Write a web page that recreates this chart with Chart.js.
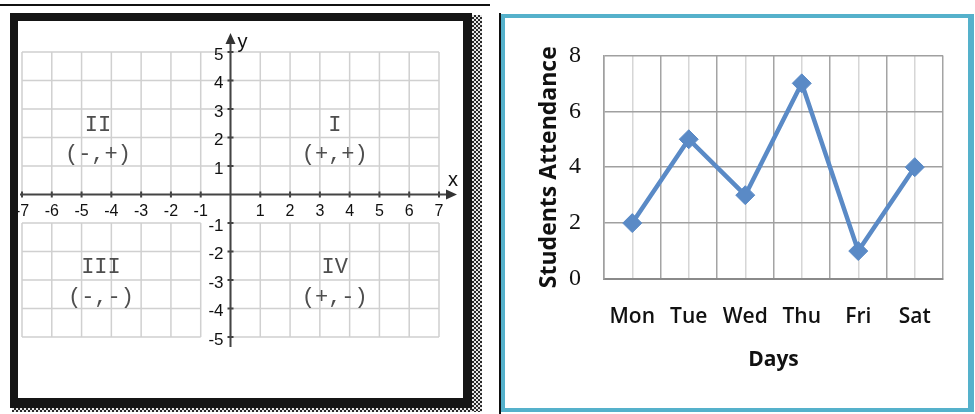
<!DOCTYPE html>
<html>
<head>
<meta charset="utf-8">
<script src="https://cdn.jsdelivr.net/npm/chart.js@4.4.0/dist/chart.umd.min.js"></script>
<style>
  html, body { margin: 0; padding: 0; background: #fff; }
  body { width: 975px; height: 414px; position: relative; overflow: hidden; }
  .rule { position: absolute; left: 0; top: 4px; width: 490px; height: 2px; background: #111; }
  .frame { position: absolute; left: 10px; top: 13px; width: 462px; height: 395px; box-sizing: border-box;
           border: 8px solid #151515; border-right-width: 9px; border-bottom-width: 10px; }
  .dots-r { position: absolute; left: 472px; top: 15px; width: 10px; height: 397px;
            background: repeating-conic-gradient(#2a2a2a 0 25%, #e6e6e6 0 50%) 0 0 / 4px 4px; }
  .dots-b { position: absolute; left: 12px; top: 408px; width: 460px; height: 4px;
            background: repeating-conic-gradient(#2a2a2a 0 25%, #e6e6e6 0 50%) 0 0 / 4px 4px; }
  #plane { position: absolute; left: 18px; top: 21px; filter: blur(0.4px); }
  .vline { position: absolute; left: 499px; top: 13px; width: 1.5px; height: 401px; background: #111; }
  .box { position: absolute; left: 501px; top: 14px; width: 473px; height: 398px; box-sizing: border-box;
         border: 4px solid #55b1cb; border-right-width: 6px; }
  #attendance { position: absolute; left: 505px; top: 18px; filter: blur(0.3px); }
</style>
</head>
<body>
<div class="rule"></div>
<div class="frame"></div>
<div class="dots-r"></div>
<div class="dots-b"></div>
<canvas id="plane" width="445" height="377"></canvas>
<div class="vline"></div>
<div class="box"></div>
<canvas id="attendance" width="463" height="390"></canvas>

<script>
// Coordinate plane: integer ticks on each axis
const planeX = [-7, -6, -5, -4, -3, -2, -1, 0, 1, 2, 3, 4, 5, 6, 7];
const planeY = [-5, -4, -3, -2, -1, 0, 1, 2, 3, 4, 5];
const quadrantNames = ['I', 'II', 'III', 'IV'];
const quadrantSigns = ['(+,+)', '(-,+)', '(-,-)', '(+,-)'];

// Attendance line chart
const days = ['Mon', 'Tue', 'Wed', 'Thu', 'Fri', 'Sat'];
const attendance = [2, 5, 3, 7, 1, 4];

// Where each quadrant caption sits, in axis units: [x, name y, signs y]
const quadrantAnchors = [
  [3.5, 2.45, 1.4],
  [-4.45, 2.45, 1.4],
  [-4.35, -2.55, -3.6],
  [3.5, -2.55, -3.6]
];

const planeDrawing = {
  id: 'planeDrawing',
  afterDraw(chart) {
    const { ctx, scales: { x, y } } = chart;
    const px = v => x.getPixelForValue(v);
    const py = v => y.getPixelForValue(v);
    const xMin = planeX[0], xMax = planeX[planeX.length - 1];
    const yMin = planeY[0], yMax = planeY[planeY.length - 1];
    const x0 = px(0), y0 = py(0);

    ctx.save();
    // grid: the band just under the x axis is left open for the labels
    ctx.strokeStyle = '#d0d0d0';
    ctx.lineWidth = 1.5;
    ctx.beginPath();
    planeX.forEach(v => {
      ctx.moveTo(px(v), py(yMax)); ctx.lineTo(px(v), y0);
      ctx.moveTo(px(v), py(-1)); ctx.lineTo(px(v), py(yMin));
    });
    planeY.forEach(v => {
      if (v > 0) {
        ctx.moveTo(px(xMin), py(v)); ctx.lineTo(px(xMax), py(v));
      } else if (v < 0) {
        ctx.moveTo(px(xMin), py(v)); ctx.lineTo(px(-1), py(v));
        ctx.moveTo(x0, py(v)); ctx.lineTo(px(xMax), py(v));
      }
    });
    ctx.stroke();

    // axes with arrowheads
    const xEnd = px(xMax) + 18;
    const yEnd = py(yMax) - 19;
    ctx.strokeStyle = '#444';
    ctx.fillStyle = '#333';
    ctx.lineWidth = 2;
    ctx.beginPath();
    ctx.moveTo(px(xMin) - 2, y0); ctx.lineTo(xEnd - 8, y0);
    ctx.moveTo(x0, py(yMin) + 10); ctx.lineTo(x0, yEnd + 8);
    planeX.forEach(v => { if (v) { ctx.moveTo(px(v), y0 - 3); ctx.lineTo(px(v), y0 + 3); } });
    planeY.forEach(v => { if (v) { ctx.moveTo(x0 - 3, py(v)); ctx.lineTo(x0 + 3, py(v)); } });
    ctx.stroke();
    ctx.beginPath();
    ctx.moveTo(xEnd, y0); ctx.lineTo(xEnd - 11, y0 - 5); ctx.lineTo(xEnd - 11, y0 + 5); ctx.closePath();
    ctx.moveTo(x0, yEnd); ctx.lineTo(x0 - 5, yEnd + 11); ctx.lineTo(x0 + 5, yEnd + 11); ctx.closePath();
    ctx.fill();

    // tick labels
    ctx.fillStyle = '#111';
    ctx.textBaseline = 'middle';
    ctx.font = '16px "Liberation Sans", Arial, sans-serif';
    ctx.textAlign = 'center';
    planeX.forEach(v => { if (v) ctx.fillText(String(v), px(v), y0 + 17); });
    ctx.font = '17px "Liberation Sans", Arial, sans-serif';
    ctx.textAlign = 'right';
    planeY.forEach(v => { if (v) ctx.fillText(String(v), x0 - 7, py(v) + 3); });

    // axis names
    ctx.font = '20px "Liberation Sans", Arial, sans-serif';
    ctx.textAlign = 'center';
    ctx.fillText('x', xEnd - 4, y0 - 14);
    ctx.fillText('y', x0 + 12, yEnd + 9);

    // quadrant captions
    ctx.fillStyle = '#4e4e4e';
    ctx.font = '22px "Liberation Mono", "DejaVu Sans Mono", monospace';
    quadrantNames.forEach((name, i) => {
      const [ax, ny, sy] = quadrantAnchors[i];
      ctx.fillText(name, px(ax), py(ny));
      ctx.fillText(quadrantSigns[i], px(ax), py(sy));
    });
    ctx.restore();
  }
};

function draw() {
  new Chart(document.getElementById('plane'), {
    type: 'scatter',
    data: { datasets: [] },
    options: {
      responsive: false,
      animation: false,
      devicePixelRatio: 1,
      layout: { padding: { left: 4, right: 24, top: 31, bottom: 61 } },
      plugins: { legend: { display: false }, tooltip: { enabled: false } },
      scales: {
        x: { type: 'linear', min: planeX[0], max: planeX[planeX.length - 1], display: false },
        y: { type: 'linear', min: planeY[0], max: planeY[planeY.length - 1], display: false }
      }
    },
    plugins: [planeDrawing]
  });

  const blue = '#5a8ac6';
  new Chart(document.getElementById('attendance'), {
    type: 'line',
    data: {
      labels: days,
      datasets: [{
        data: attendance,
        borderColor: blue,
        backgroundColor: blue,
        borderWidth: 4.5,
        tension: 0,
        pointStyle: 'rectRot',
        pointRadius: 9.5,
        pointBorderWidth: 1,
        pointBorderColor: blue,
        pointBackgroundColor: blue
      }]
    },
    options: {
      responsive: false,
      animation: false,
      devicePixelRatio: 1,
      layout: { padding: { left: 18, right: 25, top: 29, bottom: 18 } },
      plugins: { legend: { display: false }, tooltip: { enabled: false } },
      scales: {
        x: {
          type: 'category',
          offset: true,
          grid: { offset: true, color: '#a4a4a4', lineWidth: 1.5, drawTicks: false },
          border: { color: '#8a8a8a', width: 2 },
          ticks: { padding: 25, color: '#111', autoSkip: false, maxRotation: 0,
                   font: { family: '"Open Sans", sans-serif', size: 21, weight: 600 } },
          title: { display: true, text: 'Days', color: '#111',
                   font: { family: '"Open Sans", sans-serif', size: 21, weight: 'bold' },
                   padding: { top: 0, bottom: 17 } },
          afterFit: s => { s.height = 111; }
        },
        xc: {
          type: 'category',
          position: 'bottom',
          offset: true,
          grid: { offset: false, color: '#d6d6d6', lineWidth: 1.5, drawTicks: false },
          border: { display: false },
          ticks: { display: false },
          afterFit: s => { s.height = 0; }
        },
        y: {
          min: 0,
          max: 8,
          ticks: { stepSize: 2, padding: 23, color: '#111',
                   font: { family: '"Liberation Serif", serif', size: 24 } },
          grid: { color: '#a0a0a0', lineWidth: 1.5, drawTicks: false },
          border: { color: '#a0a0a0', width: 1.5 },
          title: { display: true, text: 'Students Attendance', color: '#111',
                   font: { family: '"Open Sans", sans-serif', size: 23, weight: 'bold' },
                   padding: { top: 13, bottom: 0 } },
          afterFit: s => { s.width = 81; }
        }
      }
    }
  });
}

const fontsUsed = ['16px "Liberation Sans"', '22px "Liberation Mono"', '600 21px "Open Sans"',
                   'bold 21px "Open Sans"', '24px "Liberation Serif"'];
Promise.all(fontsUsed.map(f => document.fonts.load(f))).then(draw, draw);
</script>
</body>
</html>
